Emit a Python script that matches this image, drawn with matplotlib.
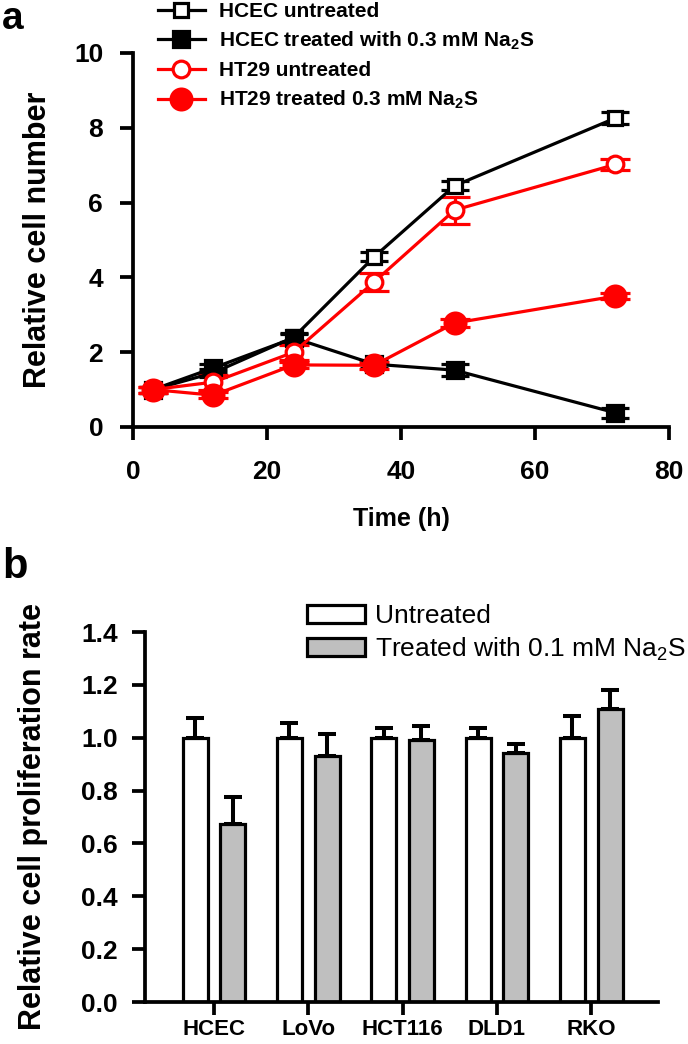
import numpy as np
import matplotlib
matplotlib.use('Agg')
import matplotlib.pyplot as plt
from matplotlib.lines import Line2D
from matplotlib.patches import Patch

plt.rcParams['font.family'] = ['Liberation Sans', 'DejaVu Sans']
plt.rcParams['mathtext.fontset'] = 'custom'
plt.rcParams['mathtext.rm'] = 'Liberation Sans'
plt.rcParams['mathtext.bf'] = 'Liberation Sans:bold'

# panel a: growth curves
timePoints = [3, 12, 24, 36, 48, 72]
hcecUntreated = [1.0, 1.45, 2.4, 4.55, 6.45, 8.26]
hcecUntreatedErr = [0.08, 0.1, 0.12, 0.12, 0.12, 0.16]
hcecTreated = [1.0, 1.58, 2.38, 1.68, 1.52, 0.38]
hcecTreatedErr = [0.08, 0.1, 0.1, 0.1, 0.16, 0.14]
ht29Untreated = [1.0, 1.2, 2.0, 3.88, 5.8, 7.02]
ht29UntreatedErr = [0.08, 0.2, 0.2, 0.25, 0.36, 0.14]
ht29Treated = [1.0, 0.85, 1.66, 1.65, 2.78, 3.5]
ht29TreatedErr = [0.08, 0.08, 0.08, 0.1, 0.1, 0.08]

labelsA = ['HCEC untreated', r'HCEC treated with 0.3 mM Na$_\mathbf{2}$S',
           'HT29 untreated', r'HT29 treated 0.3 mM Na$_\mathbf{2}$S']

# panel b: proliferation rate
cellLines = ['HCEC', 'LoVo', 'HCT116', 'DLD1', 'RKO']
rateUntreated = [1.0, 1.0, 1.0, 1.0, 1.0]
rateUntreatedErr = [0.075, 0.057, 0.035, 0.035, 0.083]
rateTreated = [0.675, 0.93, 0.99, 0.943, 1.11]
rateTreatedErr = [0.1, 0.085, 0.055, 0.035, 0.07]
labelsB = ['Untreated', r'Treated with 0.1 mM Na$_2$S']

W, H = 688, 1044
fig = plt.figure(figsize=(W / 100, H / 100), dpi=100)

lw = 2.3
tickFs = 19

# ---------- panel a ----------
ax = fig.add_axes([133 / W, 1 - 427 / H, 536 / W, 374 / H])

series = [
    (hcecUntreated, hcecUntreatedErr, 'black', 's', 'white', 10, 10),
    (hcecTreated, hcecTreatedErr, 'black', 's', 'black', 12, 10),
    (ht29Untreated, ht29UntreatedErr, 'red', 'o', 'white', 12, 11),
    (ht29Treated, ht29TreatedErr, 'red', 'o', 'red', 15, 11),
]
for vals, errs, col, mk, face, ms, cs in series:
    ax.errorbar(timePoints, vals, yerr=errs, color=col, lw=lw, marker=mk,
                markersize=ms, markerfacecolor=face, markeredgecolor=col,
                markeredgewidth=lw, capsize=cs, capthick=lw, elinewidth=lw,
                clip_on=False, zorder=3)

ax.set_xlim(0, 80)
ax.set_ylim(0, 10)
ax.set_xticks([0, 20, 40, 60, 80])
ax.set_yticks([0, 2, 4, 6, 8, 10])
for s in ['top', 'right']:
    ax.spines[s].set_visible(False)
for s in ['left', 'bottom']:
    ax.spines[s].set_linewidth(lw + 0.4)
ax.tick_params(axis='both', length=9.5, width=lw + 0.4, labelsize=tickFs)
ax.tick_params(axis='x', pad=14)
ax.tick_params(axis='y', pad=12)
for t in ax.get_xticklabels() + ax.get_yticklabels():
    t.set_fontweight('bold')

ax.set_xlabel('Time (h)', fontsize=18, fontweight='bold')
ax.xaxis.set_label_coords(0.5, -0.215)
ax.set_ylabel('Relative cell number', fontsize=22, fontweight='bold')
ax.yaxis.set_label_coords(-0.15, 0.5)

handles = []
for vals, errs, col, mk, face, ms, cs in series:
    handles.append(Line2D([], [], color=col, lw=lw, marker=mk, markersize=ms,
                          markerfacecolor=face, markeredgecolor=col,
                          markeredgewidth=lw))
fig.legend(handles, labelsA, loc='upper left', bbox_to_anchor=(158 / W, 1 - 2 / H),
           frameon=False, borderpad=0, borderaxespad=0, handlelength=2.25,
           handletextpad=0.7, labelspacing=0.42,
           prop={'size': 15, 'weight': 'bold'})

fig.text(0.003, 1 - 29 / H, 'a', fontsize=28, fontweight='bold', va='baseline')

# ---------- panel b ----------
bx = fig.add_axes([145 / W, 1 - 1002 / H, 513 / W, 370 / H])
x = np.arange(len(cellLines))
bw = 0.265
off = 0.2
bx.bar(x - off, rateUntreated, bw, color='white', edgecolor='black', linewidth=lw,
       yerr=[np.zeros(len(x)), rateUntreatedErr],
       error_kw=dict(ecolor='black', elinewidth=lw + 0.6, capsize=6.5, capthick=lw + 0.6),
       zorder=2, label=labelsB[0])
bx.bar(x + off, rateTreated, bw, color='#bfbfbf', edgecolor='black', linewidth=lw,
       yerr=[np.zeros(len(x)), rateTreatedErr],
       error_kw=dict(ecolor='black', elinewidth=lw + 0.6, capsize=6.5, capthick=lw + 0.6),
       zorder=2, label=labelsB[1])

bx.set_xlim(-0.732, 4.708)
bx.set_ylim(0, 1.4)
bx.set_xticks(x)
bx.set_xticklabels(cellLines, fontsize=16, fontweight='bold')
bx.set_yticks(np.arange(0, 1.41, 0.2))
bx.set_yticklabels(['%.1f' % v for v in np.arange(0, 1.41, 0.2)],
                   fontsize=tickFs, fontweight='bold')
for s in ['top', 'right']:
    bx.spines[s].set_visible(False)
for s in ['left', 'bottom']:
    bx.spines[s].set_linewidth(lw + 0.4)
bx.tick_params(axis='both', length=9.5, width=lw + 0.4)
bx.tick_params(axis='x', pad=3)
bx.tick_params(axis='y', pad=10)
bx.set_ylabel('Relative cell proliferation rate', fontsize=22, fontweight='bold')
bx.yaxis.set_label_coords(-0.19, 0.5)

hb = [Patch(facecolor='white', edgecolor='black', linewidth=lw),
      Patch(facecolor='#bfbfbf', edgecolor='black', linewidth=lw)]
fig.legend(hb, labelsB, loc='upper left', bbox_to_anchor=(307 / W, 1 - 604 / H),
           frameon=False, borderpad=0, borderaxespad=0, handlelength=2.2,
           handleheight=0.68, handletextpad=0.38, labelspacing=0.28,
           prop={'size': 19})

fig.text(0.003, 1 - 578 / H, 'b', fontsize=30, fontweight='bold', va='baseline')

plt.savefig('out.png', dpi=100)
plt.close()
